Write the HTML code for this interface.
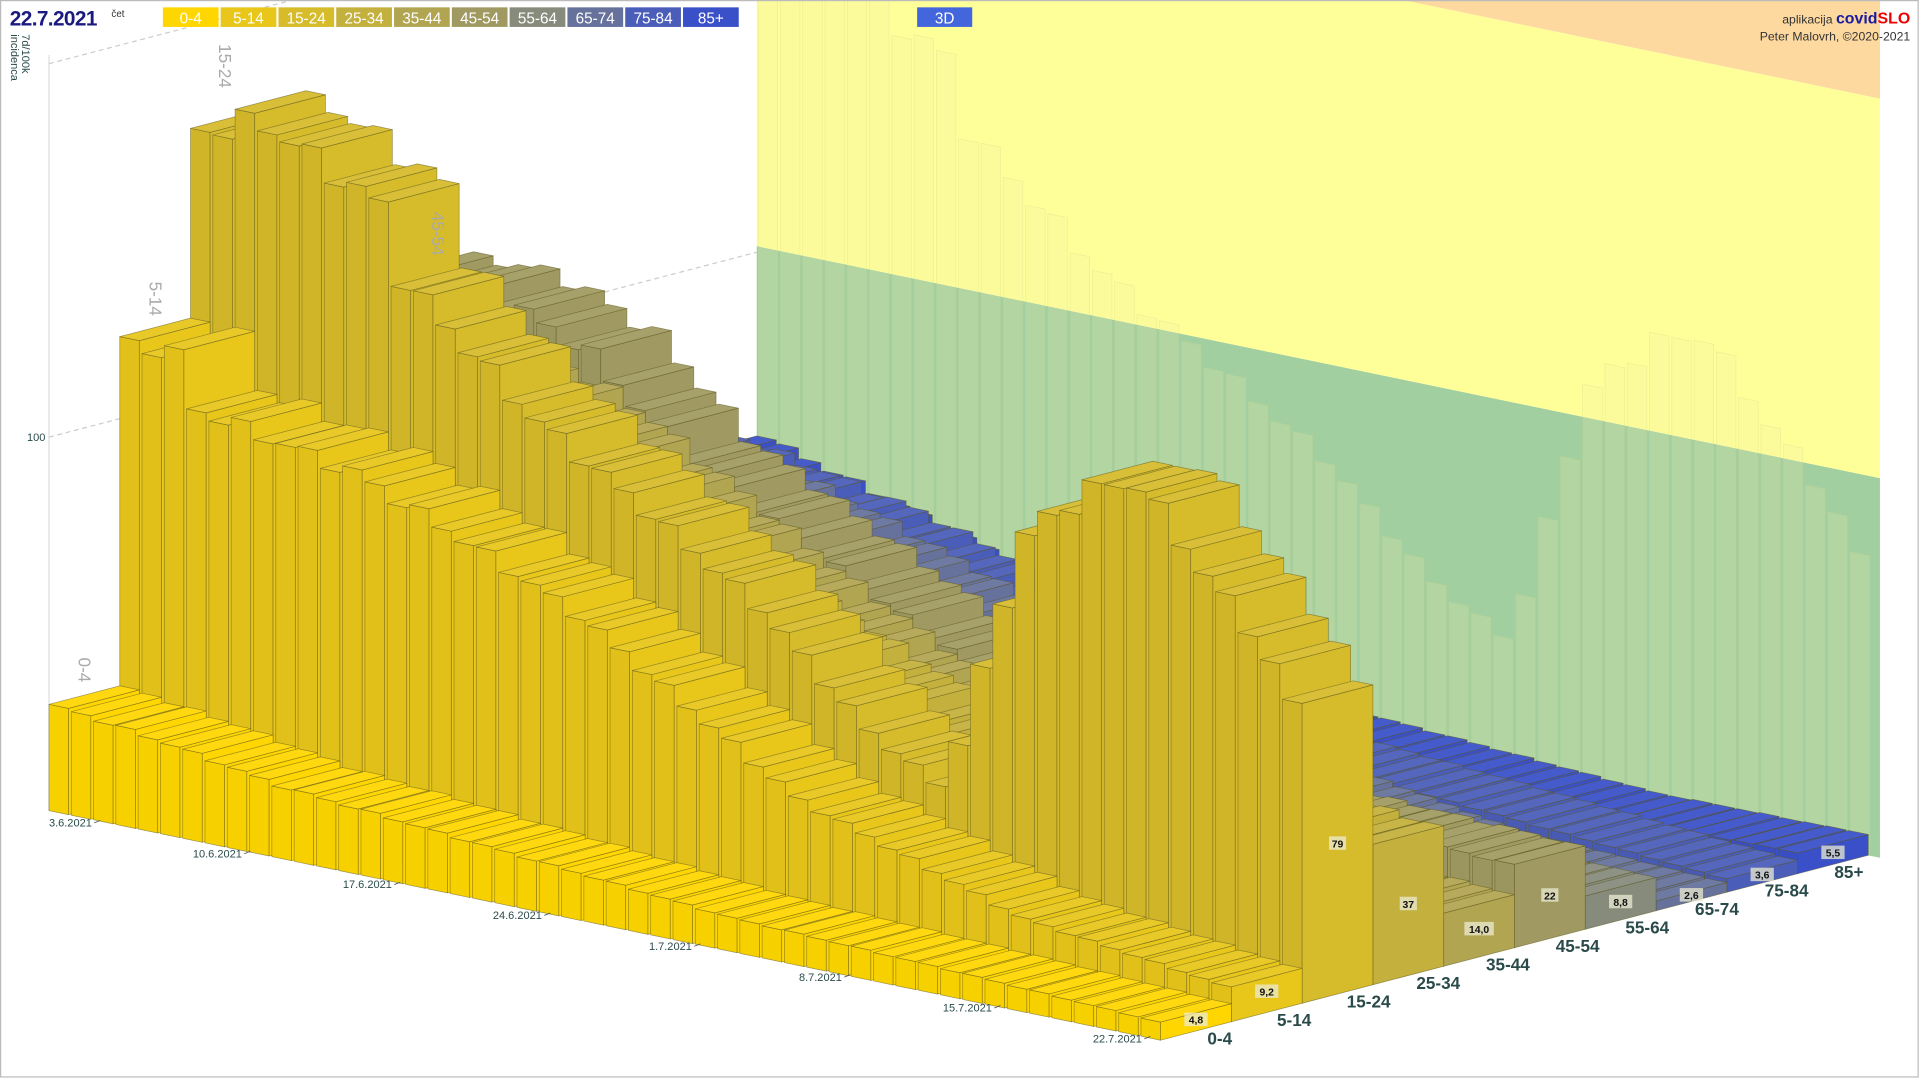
<!DOCTYPE html>
<html><head><meta charset="utf-8"><style>
html,body{margin:0;padding:0;background:#fff;overflow:hidden}
svg{display:block}
text{font-family:"Liberation Sans",sans-serif}
</style></head><body>
<svg id="s" width="1920" height="1080" viewBox="0 0 1568 882" xmlns="http://www.w3.org/2000/svg">
<rect x="0" y="0" width="1568" height="882" fill="#fff"/>
<g id="wall"></g>
<g id="grid">
<line x1="40" y1="45" x2="40" y2="662" stroke="#ddd" stroke-width="1"/>
<line x1="40" y1="357" x2="618" y2="206" stroke="#ccc" stroke-dasharray="4,3"/>
<line x1="40" y1="52" x2="618" y2="-99" stroke="#ccc" stroke-dasharray="4,3"/>
<text x="22" y="360" font-size="9" fill="#2a4a4a">100</text>
<text transform="translate(18,28) rotate(90)" font-size="9" fill="#2a4a4a">7d/100k</text>
<text transform="translate(9,28) rotate(90)" font-size="9" fill="#2a4a4a">incidenca</text>
</g>
<g id="bars"></g>
<g id="labels"></g>
<g id="hdr">
<text x="8" y="21" font-size="17" font-weight="bold" fill="#1a1a80" letter-spacing="-0.5">22.7.2021</text>
<text x="91" y="14" font-size="8" fill="#333">čet</text>
</g>
<rect x="0.5" y="0.5" width="1566" height="879" fill="none" stroke="#bbb"/>
</svg>
<script>
var NS="http://www.w3.org/2000/svg";
function el(p,t,a,txt){var e=document.createElementNS(NS,t);for(var k in a)e.setAttribute(k,a[k]);if(txt!==undefined)e.textContent=txt;p.appendChild(e);return e;}
var O=[40,662],DV=[18.2,3.76],AV=[57.8,-15.1],K=3.1;
function P(d,a,h){return [O[0]+d*DV[0]+a*AV[0],O[1]+d*DV[1]+a*AV[1]-h*K];}
function pts(arr){return arr.map(function(p){return p[0].toFixed(1)+","+p[1].toFixed(1)}).join(" ");}
function interp(k){var out=[];for(var d=0;d<50;d++){for(var i=0;i<k.length-1;i++){if(d>=k[i][0]&&d<=k[i+1][0]){var t=(d-k[i][0])/(k[i+1][0]-k[i][0]||1);out.push(k[i][1]+(k[i+1][1]-k[i][1])*t);break;}}}
 for(var d=1;d<49;d++)out[d]*=1+0.02*Math.sin(d*2.3+k.length);return out;}
var data=[
interp([[0,28],[5,24],[10,19],[20,14],[30,9],[40,7],[49,4.8]]),
interp([[0,120],[2,118],[3,105],[10,97],[15,85],[20,72],[30,35],[40,16],[49,9.2]]),
interp([[0,170],[2,174],[3,175],[4,172],[8,160],[9,142],[15,112],[20,94],[25,75],[30,48],[33,38],[34,50],[35,70],[36,90],[37,108],[38,114],[40,124],[42,128],[43,122],[45,108],[47,96],[49,79]]),
interp([[0,125],[8,110],[15,80],[25,55],[33,35],[40,42],[49,37]]),
interp([[0,118],[10,95],[20,60],[30,30],[40,18],[49,14]]),
interp([[0,118],[4,116],[8,106],[12,84],[16,72],[25,45],[35,25],[49,22]]),
interp([[0,62],[10,42],[20,25],[30,12],[49,8.8]]),
interp([[0,72],[10,56],[20,36],[30,15],[40,5],[49,2.6]]),
interp([[0,60],[10,48],[20,30],[30,12],[49,3.6]]),
interp([[0,50],[13,28],[27,10],[40,5],[49,5.5]])];
data[0][49]=4.8;data[1][49]=9.2;data[2][49]=79;data[3][49]=37;data[4][49]=14;data[5][49]=22;data[6][49]=8.8;data[7][49]=2.6;data[8][49]=3.6;data[9][49]=5.5;
var cols=["#ffd600","#e8c61a","#d6bb2a","#c4b03c","#b2a552","#a09a62","#878b7c","#66729c","#4a5db8","#3a50c8"];
function shade(c,f){var r=parseInt(c.substr(1,2),16),g=parseInt(c.substr(3,2),16),b=parseInt(c.substr(5,2),16);
 function m(x){return Math.max(0,Math.min(255,Math.round(f>0?x+(255-x)*f:x*(1+f))));}
 return "rgb("+m(r)+","+m(g)+","+m(b)+")";}
var W=document.getElementById("wall");
var a10=10,d0=0,d1=50.4;
function WP(d,h){return P(d,a10,h);}
el(W,"polygon",{points:pts([WP(d0,0),WP(d1,0),WP(d1,100),WP(d0,100)]),fill:"#a2cf9f"});
el(W,"polygon",{points:pts([WP(d0,100),WP(d1,100),WP(d1,200),WP(d0,200)]),fill:"#ffff99"});
el(W,"polygon",{points:pts([WP(d0,200),WP(d1,200),WP(d1,400),WP(d0,400)]),fill:"#fdd9a0"});
for(var d=0;d<50;d++){var h=data[2][d];
 el(W,"polygon",{points:pts([WP(d+0.06,0),WP(d+0.94,0),WP(d+0.94,h),WP(d+0.06,h)]),fill:"rgba(235,235,170,0.22)",stroke:"rgba(200,205,140,0.35)","stroke-width":"0.5"});}
var B=document.getElementById("bars");
var dep=0.88;
for(var a=9;a>=0;a--){var c=cols[a];
 for(var d=0;d<50;d++){var h=data[a][d];var g=el(B,"g",{stroke:"rgba(90,85,30,0.55)","stroke-width":"0.6","stroke-linejoin":"round"});
  el(g,"polygon",{points:pts([P(d,a,0),P(d+dep,a,0),P(d+dep,a,h),P(d,a,h)]),fill:shade(c,-0.03)});
  el(g,"polygon",{points:pts([P(d+dep,a,0),P(d+dep,a+1,0),P(d+dep,a+1,h),P(d+dep,a,h)]),fill:c});
  el(g,"polygon",{points:pts([P(d,a,h),P(d+dep,a,h),P(d+dep,a+1,h),P(d,a+1,h)]),fill:shade(c,0.06)});
 }}
var L=document.getElementById("labels");
var dates=["3.6.2021","10.6.2021","17.6.2021","24.6.2021","1.7.2021","8.7.2021","15.7.2021","22.7.2021"];
for(var i=0;i<8;i++){var d=i*7;var x=75+17.5*d,y=675+3.6*d;
 el(L,"text",{x:x,y:y,"font-size":"9","text-anchor":"end",fill:"#2a4a4a"},dates[i]);
 el(L,"line",{x1:x+2,y1:y-3,x2:x+7,y2:y-5,stroke:"#555","stroke-width":"0.7"});}
var ages=["0-4","5-14","15-24","25-34","35-44","45-54","55-64","65-74","75-84","85+"];
var vals=["4,8","9,2","79","37","14,0","22","8,8","2,6","3,6","5,5"];
for(var a=0;a<10;a++){
 el(L,"text",{x:986+56.9*a,y:853-15.1*a,"font-size":"14","font-weight":"bold",fill:"#2a4a4a"},ages[a]);
 var h=data[a][49];var p1=P(49+dep,a+0.5,0),p2=P(49+dep,a+0.5,h);
 var cy=a==2?690:(p1[1]+p2[1])/2+(a<2?6:0);if(a==0)cy=834;if(a==1)cy=811;
 var tw=vals[a].length*5+4;
 el(L,"rect",{x:p1[0]-tw/2,y:cy-7,width:tw,height:11,fill:"rgba(235,235,210,0.75)"});
 el(L,"text",{x:p1[0],y:cy+2,"font-size":"8.5","font-weight":"bold","text-anchor":"middle",fill:"#111"},vals[a]);}
var cl=[["0-4",64,537],["5-14",122,230],["15-24",179,36],["45-54",353,173]];
cl.forEach(function(c){el(L,"text",{transform:"translate("+c[1]+","+c[2]+") rotate(90)","font-size":"14",fill:"#aaa"},c[0]);});
var H=document.getElementById("hdr");
var lc=["#ffd600","#e8c61a","#d6bb2a","#c4b03c","#b2a552","#a09a62","#878b7c","#66729c","#4a5db8","#3a50c8"];
for(var i=0;i<10;i++){var x=133+47.2*i;
 el(H,"rect",{x:x,y:6,width:45.5,height:16,fill:lc[i]});
 el(H,"text",{x:x+22.7,y:19,"font-size":"12.5","text-anchor":"middle",fill:"#fff"},ages[i]);}
el(H,"rect",{x:749,y:6,width:45,height:16,fill:"#4466dd"});
el(H,"text",{x:771.5,y:19,"font-size":"12.5","text-anchor":"middle",fill:"#fff"},"3D");
var t=el(H,"text",{x:1560,y:19,"font-size":"10","text-anchor":"end",fill:"#333"});
el(t,"tspan",{},"aplikacija ");el(t,"tspan",{"font-size":"13","font-weight":"bold",fill:"#1a1aa0"},"covid");el(t,"tspan",{"font-size":"13","font-weight":"bold",fill:"#e00"},"SLO");
el(H,"text",{x:1560,y:33,"font-size":"10","text-anchor":"end",fill:"#333"},"Peter Malovrh, ©2020-2021");
</script>
</body></html>
